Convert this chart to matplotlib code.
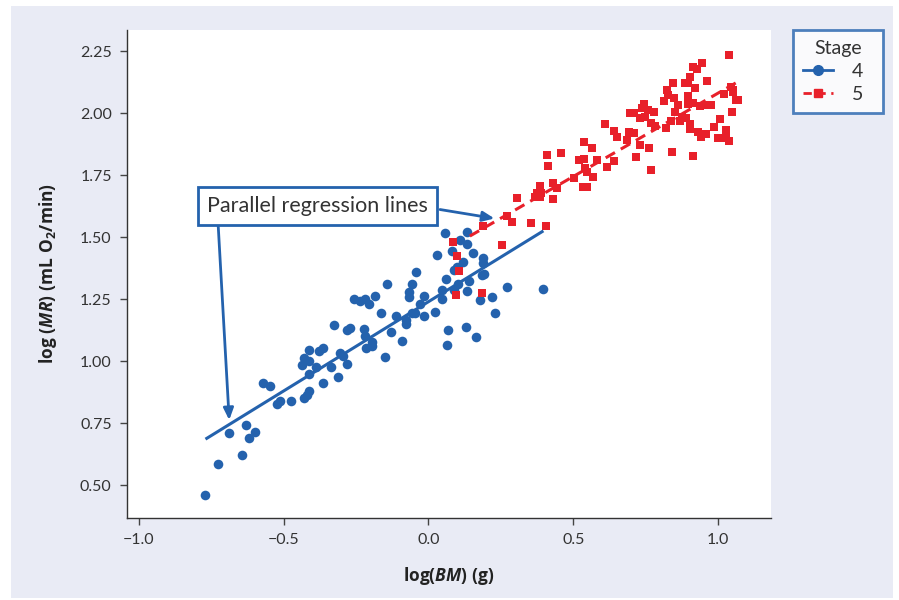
import matplotlib
matplotlib.use("Agg")
import matplotlib.pyplot as plt
from matplotlib.lines import Line2D
from matplotlib.patches import Rectangle

plt.rcParams['font.family'] = ['Lato', 'DejaVu Sans']
plt.rcParams['mathtext.fontset'] = 'custom'
plt.rcParams['mathtext.rm'] = 'Open Sans'
plt.rcParams['mathtext.it'] = 'Open Sans:italic'
plt.rcParams['mathtext.bf'] = 'Open Sans:bold'
try:
    plt.rcParams['mathtext.bfit'] = 'Open Sans:bold:italic'
except KeyError:
    pass

# ---------------- data ----------------
stage4_x = [-0.773, -0.728, -0.643, -0.688, -0.631, -0.620, -0.600, -0.571, -0.547, -0.522,
            -0.513, -0.473, -0.429, -0.421, -0.412, -0.435, -0.430, -0.413, -0.412, -0.412,
            -0.390, -0.365, -0.377, -0.365, -0.337, -0.325, -0.314, -0.306, -0.294, -0.280,
            -0.280, -0.271, -0.258, -0.237, -0.219, -0.204, -0.185, -0.222, -0.219, -0.216,
            -0.196, -0.194, -0.164, -0.149, -0.144, -0.130, -0.112, -0.092, -0.079, -0.078,
            -0.068, -0.066, -0.057, -0.057, -0.045, -0.030, -0.014, -0.014, 0.021, 0.046,
            0.048, 0.063, 0.068,
            -0.044, 0.058, 0.134, 0.109, 0.134, 0.083, 0.028, 0.153, 0.120, 0.187,
            0.189, 0.088, 0.097, 0.059, 0.101, 0.141, 0.186, 0.193, 0.088, 0.134,
            0.128, 0.164, 0.178, 0.218, 0.230, 0.273, 0.394]
stage4_y = [0.461, 0.583, 0.620, 0.708, 0.742, 0.688, 0.712, 0.910, 0.899, 0.827,
            0.839, 0.839, 0.850, 0.863, 0.879, 0.984, 1.011, 1.044, 1.001, 0.948,
            0.975, 0.913, 1.042, 1.051, 0.975, 1.145, 0.937, 1.033, 1.020, 0.988,
            1.125, 1.134, 1.250, 1.242, 1.250, 1.229, 1.262, 1.128, 1.101, 1.051,
            1.060, 1.078, 1.192, 1.017, 1.310, 1.116, 1.183, 1.081, 1.165, 1.148,
            1.277, 1.259, 1.309, 1.192, 1.195, 1.229, 1.263, 1.183, 1.199, 1.286,
            1.249, 1.065, 1.125,
            1.359, 1.517, 1.521, 1.488, 1.472, 1.445, 1.427, 1.435, 1.398, 1.414,
            1.396, 1.367, 1.380, 1.332, 1.310, 1.324, 1.347, 1.351, 1.286, 1.283,
            1.136, 1.098, 1.246, 1.257, 1.192, 1.297, 1.290]

stage5_x = [0.086, 0.100, 0.106, 0.096, 0.186, 0.189, 0.255, 0.273, 0.287, 0.354,
            0.406, 0.307, 0.385, 0.374, 0.368, 0.385, 0.389, 0.431, 0.443, 0.431,
            0.408, 0.414, 0.459, 0.504, 0.521, 0.538, 0.538, 0.541, 0.549, 0.569,
            0.533, 0.546,
            0.566, 0.583, 0.642, 0.618, 0.611, 0.642, 0.652, 0.694, 0.710, 0.685,
            0.732, 0.763, 0.842, 0.915, 0.718, 0.769, 0.696, 0.710, 0.746, 0.736,
            0.759, 0.779, 0.749, 0.731, 0.769, 0.782, 0.820, 0.837, 0.851, 0.869,
            0.877, 0.889, 0.904, 0.904, 0.861, 0.897, 0.915, 0.938, 0.957, 0.975,
            0.932, 0.960, 0.940, 0.987, 1.008, 1.029, 1.001, 1.029, 1.039, 1.049,
            1.061, 1.070, 1.021, 1.044, 1.053, 1.053, 0.815, 0.849, 0.826, 0.825,
            0.897, 0.922, 0.846, 0.887, 0.897, 0.963, 0.904, 0.913, 0.929, 0.946,
            1.039]
stage5_y = [1.479, 1.423, 1.363, 1.266, 1.274, 1.544, 1.468, 1.585, 1.562, 1.555,
            1.544, 1.656, 1.706, 1.676, 1.660, 1.660, 1.676, 1.717, 1.696, 1.652,
            1.829, 1.786, 1.838, 1.737, 1.810, 1.813, 1.884, 1.777, 1.763, 1.743,
            1.703, 1.703,
            1.858, 1.810, 1.806, 1.781, 1.954, 1.927, 1.902, 1.922, 1.918, 1.891,
            1.870, 1.858, 1.842, 1.825, 1.821, 1.770, 2.001, 1.999, 2.036, 2.022,
            2.014, 2.003, 1.983, 1.979, 1.958, 1.949, 1.938, 1.968, 2.005, 1.968,
            1.985, 1.979, 1.956, 1.934, 2.032, 2.035, 2.039, 2.028, 2.032, 2.032,
            1.922, 1.914, 1.902, 1.945, 1.975, 1.931, 1.898, 1.898, 1.887, 2.003,
            2.052, 2.052, 2.077, 2.106, 2.093, 2.083, 2.048, 2.059, 2.073, 2.093,
            2.069, 2.100, 2.120, 2.120, 2.122, 2.128, 2.144, 2.184, 2.176, 2.200,
            2.233]

reg4_x = [-0.770, 0.397]
reg4_y = [0.685, 1.525]
reg5_x = [0.143, 1.062]
reg5_y = [1.504, 2.122]

xticks = [-1.0, -0.5, 0.0, 0.5, 1.0]
xtick_labels = ['\u22121.0', '\u22120.5', '0.0', '0.5', '1.0']
yticks = [0.50, 0.75, 1.00, 1.25, 1.50, 1.75, 2.00, 2.25]
ytick_labels = ['0.50', '0.75', '1.00', '1.25', '1.50', '1.75', '2.00', '2.25']

annotation_text = 'Parallel regression lines'
legend_title = 'Stage'
legend_labels = ['4', '5']

# ---------------- style ----------------
BLUE = '#2462ad'
RED = '#e8202a'
BG = '#e9ebf5'

fig = plt.figure(figsize=(8.99, 6.0), dpi=100)
fig.patch.set_facecolor('white')
fig.patches.append(Rectangle((11 / 899, 2 / 600), (893 - 11) / 899, (594 - 2) / 600,
                             transform=fig.transFigure, facecolor=BG, edgecolor='none',
                             zorder=-10))

ax = fig.add_axes([127 / 899, 1 - 518 / 600, (771 - 127) / 899, (518 - 30) / 600])
ax.set_facecolor('white')

ax.scatter(stage4_x, stage4_y, s=48, marker='o', color=BLUE, linewidths=0, zorder=3)
ax.scatter(stage5_x, stage5_y, s=40, marker='s', color=RED, linewidths=0, zorder=3)
ax.plot(reg4_x, reg4_y, color=BLUE, lw=2.2, solid_capstyle='butt', zorder=4)
ax.plot(reg5_x, reg5_y, color=RED, lw=2.2, dashes=(3.5, 2.2), zorder=4)

ax.set_xlim(-1.041, 1.183)
ax.set_ylim(0.367, 2.335)
ax.set_xticks(xticks)
ax.set_xticklabels(xtick_labels)
ax.set_yticks(yticks)
ax.set_yticklabels(ytick_labels)

for s in ['top', 'right']:
    ax.spines[s].set_visible(False)
for s in ['left', 'bottom']:
    ax.spines[s].set_color('#333333')
    ax.spines[s].set_linewidth(1.0)
ax.tick_params(axis='both', direction='out', length=5, width=1, color='#444444',
               labelcolor='#333333', labelsize=11.5, pad=6)

ax.set_xlabel(r'$\mathbf{log(}\mathbfit{BM}\mathbf{)\ (g)}$', fontsize=12.5, color='#222222', labelpad=13)
ax.set_ylabel(r'$\mathbf{log\ (}\mathbfit{MR}\mathbf{)\ (mL\ O_2/min)}$', fontsize=12.5, color='#222222', labelpad=15)

# annotation box and arrows
ax.text(-0.383, 1.626, annotation_text, fontsize=15.5, color='#333333', ha='center', va='center',
        zorder=6,
        bbox=dict(boxstyle='square,pad=0.42', facecolor='white', edgecolor=BLUE, linewidth=2))
ax.annotate('', xy=(0.228, 1.575), xytext=(0.040, 1.611),
            arrowprops=dict(arrowstyle='-|>,head_length=0.7,head_width=0.3', color=BLUE, lw=2,
                            shrinkA=0, shrinkB=0), zorder=5)
ax.annotate('', xy=(-0.688, 0.762), xytext=(-0.726, 1.545),
            arrowprops=dict(arrowstyle='-|>,head_length=0.7,head_width=0.3', color=BLUE, lw=2,
                            shrinkA=0, shrinkB=0), zorder=5)

handles = [Line2D([0], [0], color=BLUE, lw=2, marker='o', markersize=7),
           Line2D([0], [0], color=RED, lw=2, marker='s', markersize=6, dashes=(3, 2))]
leg = fig.legend(handles, [lab + '  ' for lab in legend_labels], title=legend_title,
                 loc='upper left',
                 bbox_to_anchor=(793 / 899, 1 - 30 / 600), borderaxespad=0,
                 fontsize=14, title_fontsize=14,
                 frameon=True, fancybox=False, edgecolor=BLUE, facecolor='white',
                 handlelength=1.55, borderpad=0.5, handletextpad=1.0, labelspacing=0.32,
                 alignment='center')
leg.get_frame().set_linewidth(2)
for t in leg.get_texts():
    t.set_color('#333333')
leg.get_title().set_color('#333333')

fig.savefig('out.png', dpi=100)
